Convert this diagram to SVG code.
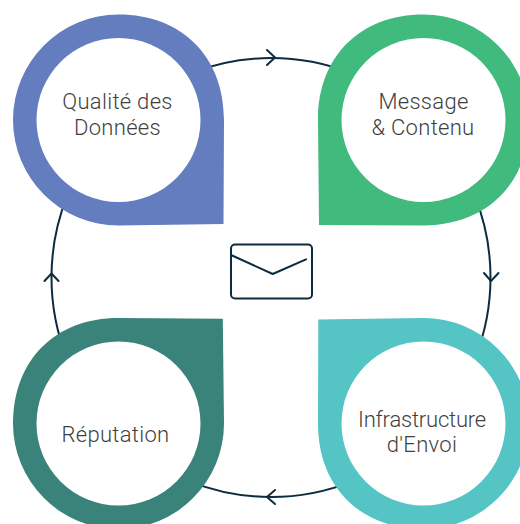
<svg xmlns="http://www.w3.org/2000/svg" width="520" height="524" viewBox="0 0 520 524">
<style>
.hole{fill:#fff}
.lbl{font-family:"Roboto","Liberation Sans",sans-serif;font-weight:300;font-size:22px;fill:#3f3f3f;text-anchor:middle;letter-spacing:.3px}
.ln{fill:none;stroke:#0d2c40;stroke-width:2;stroke-linecap:round;stroke-linejoin:round}
</style>
<rect width="520" height="524" fill="#fff"/>
<g id="connectors" class="ln">
<circle cx="271" cy="277.500" r="219.500"/>
<path d="M267 50L275 57.500L267 65"/>
<path d="M484 273L491 281L498.500 273"/>
<path d="M275 490L267 497L275 504"/>
<path d="M44.500 281L51.500 273.500L58.500 281"/>
</g>
<g id="node-qualite">
<path fill="#647dbf" d="M223.500 224L118.500 225.500A105.500 105.500 0 0 1 13 120A105.500 105.500 0 0 1 118.500 14.500C181.800 14.500 224 56.700 224 120Z"/>
<circle class="hole" cx="118.500" cy="120" r="82"/>
<text class="lbl" x="117.500" y="109">Qualité des</text>
<text class="lbl" x="117.500" y="135">Données</text>
</g>
<g id="node-message">
<path fill="#40ba7d" d="M319 225L318 120C318 56.700 360.200 14.500 423.500 14.500A105.500 105.500 0 0 1 529 120C529 183.300 486.800 225.500 423.500 225.500Z"/>
<circle class="hole" cx="423.500" cy="120" r="82"/>
<text class="lbl" x="423.500" y="109">Message</text>
<text class="lbl" x="423" y="135">&amp; Contenu</text>
</g>
<g id="node-reputation">
<path fill="#3a837b" d="M222.800 318.700L118.500 318C55.200 318 13 360.200 13 423.500A105.500 105.500 0 0 0 224 423.500Z"/>
<circle class="hole" cx="118.500" cy="423.500" r="82"/>
<text class="lbl" x="115.500" y="442">Réputation</text>
</g>
<g id="node-infrastructure">
<path fill="#54c4c4" d="M318.300 319.500L423.500 318A105.500 105.500 0 0 1 423.500 529C360.200 529 318 486.800 318 423.500Z"/>
<circle class="hole" cx="423.500" cy="423.500" r="82"/>
<text class="lbl" x="422" y="427" style="letter-spacing:-.2px">Infrastructure</text>
<text class="lbl" x="422" y="452">d'Envoi</text>
</g>
<g id="node-envelope" class="ln">
<rect x="231" y="244.500" width="81" height="54" rx="4"/>
<path d="M231 255L272.700 274L306 259.300"/>
</g>
</svg>
